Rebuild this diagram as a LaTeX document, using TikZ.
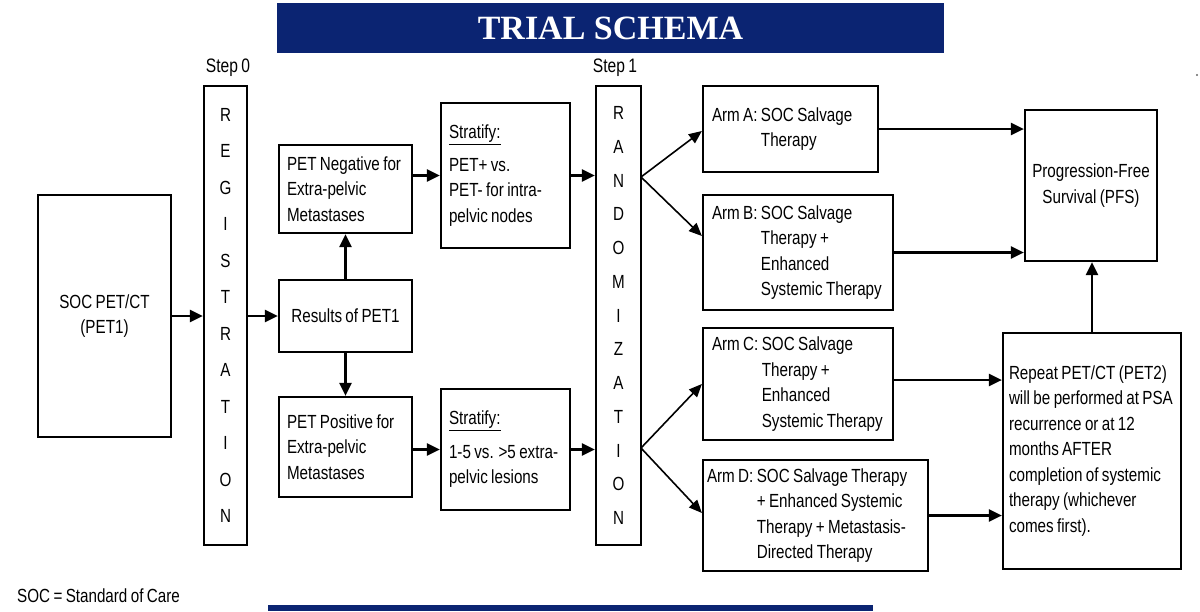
\documentclass[tikz,border=0pt]{standalone}
\usepackage{fontspec}
\setmainfont{Liberation Sans}[FakeStretch=0.80, WordSpace=0.80]
\newfontfamily\titlefont{Liberation Serif}
\usetikzlibrary{arrows.meta}
\definecolor{navy}{RGB}{11,36,114}
\begin{document}
\begin{tikzpicture}[x=1pt,y=-1pt,
  box/.style={draw, line width=2.2pt, inner sep=0pt, font=\fontsize{19}{25.5}\selectfont},
  lbox/.style={box, align=flush left},
  vbox/.style={box, align=center},
  arr/.style={line width=2.4pt, -{Triangle[length=13pt,width=12pt]}},
  darr/.style={line width=1.6pt, -{Triangle[length=13pt,width=11pt]}},
  lbl/.style={font=\fontsize{19.5}{25.5}\selectfont, inner sep=0pt}
]
\useasboundingbox (0,0) rectangle (1200,611);
% title bars
\fill[navy] (277,3) rectangle (944,53);
\node[text=white, font=\titlefont\bfseries\fontsize{34}{40}\selectfont, inner sep=0pt] (title) at (610.5,28) {TRIAL SCHEMA};
\fill[navy] (268,605) rectangle (873,611);
\fill[black!60] (1197,75) circle (1.2pt);

% step labels
\node[lbl] (step0) at (228,68) {Step 0};
\node[lbl] (step1) at (615,68) {Step 1};

% boxes
\node[vbox, minimum width=133pt, minimum height=242pt] (soc) at (104.5,316) {SOC PET/CT\\(PET1)};
\node[box, minimum width=43pt, minimum height=459pt, align=center,
  font=\fontsize{19}{36.5}\selectfont] (reg) at (225.5,315.5)
  {R\\E\\G\\I\\S\\T\\R\\A\\T\\I\\O\\N};
\node[vbox, minimum width=133pt, minimum height=72pt] (res) at (345.5,316) {Results of PET1};
\node[lbox, inner xsep=8pt, text width=117pt, minimum height=88pt] (neg) at (345.5,189)
  {PET Negative for\\Extra-pelvic\\Metastases};
\node[lbox, inner xsep=8pt, text width=117pt, minimum height=100pt] (pos) at (345.5,447)
  {PET Positive for\\Extra-pelvic\\Metastases};
\node[lbox, inner xsep=8pt, text width=113pt, minimum height=145pt] (st1) at (505.5,175.5)
  {\underline{Stratify:}\\[7pt]PET+ vs.\\PET- for intra-\\pelvic nodes};
\node[lbox, inner xsep=8pt, text width=113pt, minimum height=121pt] (st2) at (505.5,449.5)
  {\underline{Stratify:}\\[8pt]1-5 vs. >5 extra-\\pelvic lesions};
\node[box, minimum width=45pt, minimum height=459pt, align=center,
  font=\fontsize{19}{33.75}\selectfont] (rand) at (618.5,315.5)
  {R\\A\\N\\D\\O\\M\\I\\Z\\A\\T\\I\\O\\N};
\node[lbox, inner xsep=9pt, text width=157pt, minimum height=86pt] (armA) at (790.5,129)
  {\begin{tabular}{@{}l@{\ }l@{}}Arm A:&SOC Salvage\\&Therapy\end{tabular}};
\node[lbox, inner xsep=9pt, text width=172pt, minimum height=115pt] (armB) at (798,252.5)
  {\begin{tabular}{@{}l@{\ }l@{}}Arm B:&SOC Salvage\\&Therapy +\\&Enhanced\\&Systemic Therapy\end{tabular}};
\node[lbox, inner xsep=9pt, text width=172pt, minimum height=112pt] (armC) at (798,384)
  {\begin{tabular}{@{}l@{\ }l@{}}Arm C:&SOC Salvage\\&Therapy +\\&Enhanced\\&Systemic Therapy\end{tabular}};
\node[lbox, inner xsep=4pt, text width=217pt, minimum height=111pt] (armD) at (815.5,515.5)
  {\begin{tabular}{@{}l@{\ }l@{}}Arm D:&SOC Salvage Therapy\\&+ Enhanced Systemic\\&Therapy + Metastasis-\\&Directed Therapy\end{tabular}};
\node[vbox, minimum width=132pt, minimum height=151pt] (pfs) at (1091,185.5)
  {Progression-Free\\Survival (PFS)};
\node[lbox, inner xsep=6pt, text width=166pt, minimum height=236pt] (rep) at (1092,451)
  {Repeat PET/CT (PET2)\\will be performed at PSA\\recurrence or at 12\\months AFTER\\completion of systemic\\therapy (whichever\\comes first).};

% footnote
\node[anchor=west, inner sep=0pt, font=\fontsize{19}{20}\selectfont] (note) at (17,596) {SOC = Standard of Care};

% connectors
\draw[arr] (soc.east) -- (soc.east -| reg.west);
\draw[arr] (res.west -| reg.east) -- (res.west);
\draw[arr] (res.north) -- (neg.south);
\draw[arr] (res.south) -- (pos.north);
\draw[arr] (st1.west -| neg.east) -- (st1.west);
\draw[arr] (st2.west -| pos.east) -- (st2.west);
\draw[arr] (st1.east) -- (st1.east -| rand.west);
\draw[arr] (st2.east) -- (st2.east -| rand.west);
\coordinate (r1) at (641,177);
\coordinate (r2) at (641,448);
\draw[darr] (r1) -- ([yshift=-2pt]armA.west);
\draw[darr] (r1) -- ([yshift=16.5pt]armB.west);
\draw[darr] (r2) -- (armC.west);
\draw[darr] (r2) -- ([yshift=2.5pt]armD.west);
\draw[arr] (armA.east) -- (armA.east -| pfs.west);
\draw[arr] (armB.east) -- (armB.east -| pfs.west);
\draw[arr] ([yshift=4pt]armC.east) -- ([yshift=4pt]armC.east -| rep.west);
\draw[arr] (armD.east) -- (armD.east -| rep.west);
\draw[arr] (rep.north) -- (rep.north |- pfs.south);
\end{tikzpicture}
\end{document}
